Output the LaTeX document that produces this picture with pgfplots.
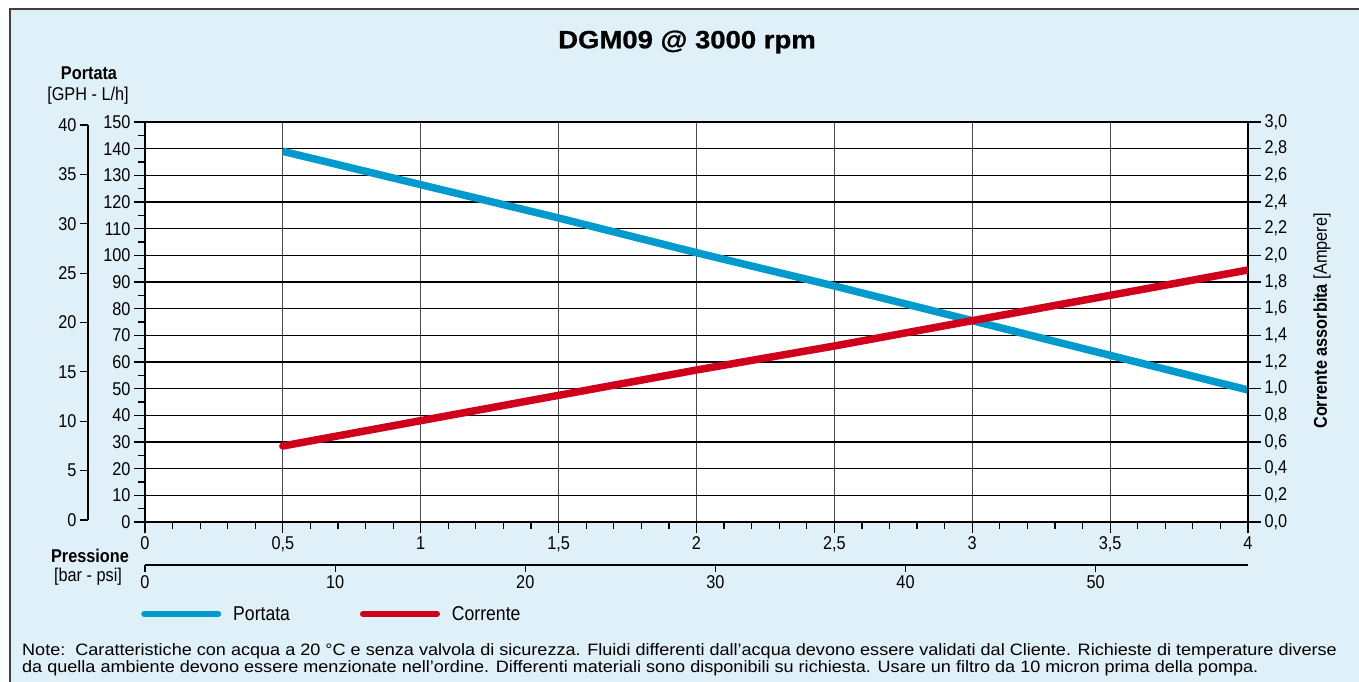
\documentclass[border=0pt]{standalone}
\usepackage{pgfplots}
\pgfplotsset{compat=1.18}
\usepackage{fontspec}
\setmainfont{Liberation Sans}[FakeStretch=0.88]
\newfontfamily\notefont{Liberation Sans}[FakeStretch=1.095]
\newfontfamily\titlefont{Liberation Sans}[FakeStretch=1.1, BoldFeatures={FakeBold=0.8}]

\definecolor{bgblue}{RGB}{224,240,248}
\definecolor{portata}{RGB}{0,155,204}
\definecolor{corrente}{RGB}{208,0,28}

\pgfplotsset{
  every axis/.append style={
    scale only axis,
    /pgf/number format/assume math mode=true,
    /pgf/number format/use comma,
    tick label style={font=\fontsize{18.5}{20}\selectfont},
    tick style={black, line width=1.2pt},
    axis line style={black, line width=1.2pt},
    tick align=outside,
  },
}

\begin{document}
\begin{tikzpicture}[x=1pt,y=1pt]
% background and frame
\fill[white] (0,0) rectangle (1359,682);
\fill[bgblue] (10,0) rectangle (1359,673);
\draw[line width=2pt, black!75] (10,0) -- (10,673) -- (1359,673);

\node[font=\titlefont\bfseries\fontsize{25}{30}\selectfont] at (687,640) {DGM09 @ 3000 rpm};

% axis titles
\node[font=\bfseries\fontsize{18.5}{20}\selectfont] at (89,609) {Portata};
\node[font=\fontsize{18.5}{20}\selectfont] at (88,586) {[GPH - L/h]};
\node[font=\bfseries\fontsize{18.5}{20}\selectfont] at (90,126) {Pressione};
\node[font=\fontsize{18.5}{20}\selectfont] at (88,105) {[bar - psi]};
\node[rotate=90, font=\fontsize{18.5}{20}\selectfont] at (1322,361) {\textbf{Corrente assorbita} [Ampere]};

% main axis: L/h vs bar
\begin{axis}[
  at={(145pt,160pt)}, anchor=south west,
  width=1103pt, height=400pt,
  xmin=0, xmax=4, ymin=0, ymax=150,
  axis background/.style={fill=white},
  xtick={0,0.5,1,1.5,2,2.5,3,3.5,4},
  minor x tick num=4,
  ytick={0,10,20,30,40,50,60,70,80,90,100,110,120,130,140,150},
  minor y tick num=1,
  xtick pos=left, ytick pos=left,
  major tick length=11pt, minor tick length=7pt,
  grid=major,
  x grid style={black!70, line width=1pt},
  y grid style={black, line width=1.6pt},
]
\addplot[portata, line width=7.5pt, line cap=butt] coordinates {
  (0.5,139) (1,126.5) (1.5,114) (2,101) (2.5,88.5) (3,75.5) (3.5,62.5) (4,49.5)
};
\end{axis}

% right axis: Ampere
\begin{axis}[
  at={(145pt,160pt)}, anchor=south west,
  width=1103pt, height=400pt,
  xmin=0, xmax=4, ymin=0, ymax=3,
  hide x axis, axis y line*=right,
  ytick={0,0.2,0.4,0.6,0.8,1,1.2,1.4,1.6,1.8,2,2.2,2.4,2.6,2.8,3},
  yticklabel style={/pgf/number format/.cd, fixed, fixed zerofill, precision=1},
  major tick length=13pt,
  legend style={at={(axis description cs:-0.0036,-0.23)}, anchor=west,
    draw=none, fill=none, inner sep=0pt, legend columns=2,
    font=\fontsize{20}{22}\selectfont,
    /tikz/every even column/.append style={column sep=68pt}},
  legend image code/.code={\draw[#1, line width=6pt, line cap=round] (3pt,0pt) -- (77pt,0pt);},
]
\addlegendimage{portata}
\addlegendentry{\hspace{10pt}Portata}
\addplot[corrente, line width=7.5pt, line cap=round] coordinates {
  (0.5,0.57) (1,0.76) (1.5,0.95) (2,1.14) (2.5,1.32) (3,1.51) (3.5,1.70) (4,1.89)
};
\addlegendentry{\hspace{10pt}Corrente}
\end{axis}

% left outer axis: GPH
\begin{axis}[
  at={(88pt,162pt)}, anchor=south west,
  width=1pt, height=395pt,
  xmin=0, xmax=1, ymin=0, ymax=40,
  hide x axis, axis y line*=left,
  ytick={0,5,10,15,20,25,30,35,40},
  major tick length=8pt,
]
\end{axis}

% bottom outer axis: psi
\begin{axis}[
  at={(145pt,117pt)}, anchor=south west,
  width=1103pt, height=1pt,
  xmin=0, xmax=58.015, ymin=0, ymax=1,
  hide y axis, axis x line*=bottom,
  xtick={0,10,20,30,40,50},
  major tick length=7pt,
  axis line style={line width=2.5pt},
]
\end{axis}

\node[anchor=west, inner sep=0pt, align=left, font=\notefont\fontsize{16.5}{17}\selectfont] at (22,22.5)
 {Note:\ \ Caratteristiche con acqua a 20 °C e senza valvola di sicurezza. Fluidi differenti dall’acqua devono essere validati dal Cliente. Richieste di temperature diverse\\
 da quella ambiente devono essere menzionate nell’ordine. Differenti materiali sono disponibili su richiesta. Usare un filtro da 10 micron prima della pompa.};

\pgfresetboundingbox
\path (0,0) rectangle (1359,682);
\end{tikzpicture}
\end{document}
